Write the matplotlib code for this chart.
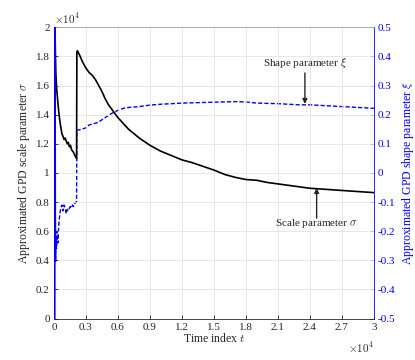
import matplotlib
matplotlib.use("Agg")
import matplotlib.pyplot as plt

plt.rcParams['font.family'] = ['Liberation Serif', 'DejaVu Serif']
plt.rcParams['mathtext.fontset'] = 'cm'

# Datos (t y sigma en unidades crudas)
t_sigma = [60, 90, 130, 180, 250, 350, 450, 550, 650, 750, 850, 950, 1050, 1150,
           1250, 1350, 1450, 1550, 1650, 1750, 1850, 1950, 2050, 2120, 2150,
           2200, 2400, 2700, 3000, 3300, 3600, 3900, 4200, 4500, 4800, 5100,
           5400, 5700, 6000, 6500, 7000, 7500, 8000, 8500, 9000, 10000, 11000,
           12000, 13000, 14000, 15000, 16000, 17000, 18000, 19000, 20000,
           21000, 22000, 23000, 24000, 25000, 26000, 27000, 28000, 29000, 30000]
sigma = [26000, 20500, 18500, 16800, 15800, 15000, 14200, 13600, 13100, 12700,
         12500, 12300, 12400, 12200, 12000, 12100, 11800, 11900, 11600, 11500,
         11400, 11200, 11100, 11000, 18300, 18400, 18100, 17600, 17200, 16900,
         16700, 16400, 16000, 15600, 15100, 14700, 14400, 14100, 13800, 13400,
         13000, 12700, 12400, 12150, 11900, 11500, 11200, 10900, 10700, 10450,
         10200, 9900, 9700, 9550, 9500, 9350, 9250, 9150, 9050, 8950, 8900,
         8850, 8800, 8750, 8700, 8650]

# tramo inicial (muy ruidoso, se ve continuo)
t_xi0 = [50, 70, 100, 140]
xi0 = [-0.5, 0.55, -0.15, -0.30]

t_xi = [140, 180, 240, 300, 380, 450, 550, 650, 750, 850, 950, 1050,
        1150, 1250, 1350, 1450, 1550, 1650, 1750, 1850, 1950, 2050, 2120, 2150,
        2200, 2600, 3000, 3300, 3600, 4000, 4400, 4800, 5200, 5600, 6000, 6500,
        7000, 8000, 9000, 10000, 11000, 12000, 13000, 14000, 15000, 16000,
        17000, 18000, 19000, 20000, 21000, 22000, 23000, 24000, 25000, 26000,
        27000, 28000, 29000, 30000]
xi = [-0.30, -0.22, -0.26, -0.20, -0.24, -0.18, -0.14,
      -0.12, -0.11, -0.13, -0.11, -0.12, -0.14, -0.125, -0.13, -0.12, -0.115,
      -0.12, -0.11, -0.115, -0.105, -0.10, -0.10, 0.148, 0.147, 0.150, 0.155,
      0.165, 0.168, 0.172, 0.180, 0.190, 0.200, 0.208, 0.215, 0.222, 0.225,
      0.228, 0.233, 0.236, 0.238, 0.240, 0.241, 0.242, 0.243, 0.244, 0.245,
      0.244, 0.240, 0.239, 0.238, 0.236, 0.234, 0.234, 0.232, 0.230, 0.228,
      0.226, 0.224, 0.222]

x_ticks = [0, 3000, 6000, 9000, 12000, 15000, 18000, 21000, 24000, 27000, 30000]
x_labels = ['0', '0.3', '0.6', '0.9', '1.2', '1.5', '1.8', '2.1', '2.4', '2.7', '3']
y_ticks = [0, 2000, 4000, 6000, 8000, 10000, 12000, 14000, 16000, 18000, 20000]
y_labels = ['0', '0.2', '0.4', '0.6', '0.8', '1', '1.2', '1.4', '1.6', '1.8', '2']
y2_ticks = [-0.5, -0.4, -0.3, -0.2, -0.1, 0, 0.1, 0.2, 0.3, 0.4, 0.5]
y2_labels = ['-0.5', '-0.4', '-0.3', '-0.2', '-0.1', '0', '0.1', '0.2', '0.3', '0.4', '0.5']

gris = '#262626'
azul = '#0000ff'

fig = plt.figure(figsize=(4.15, 3.6), dpi=100)
ax = fig.add_axes([0.130, 0.115, 0.771, 0.809])
ax2 = ax.twinx()

ax.plot(t_sigma, sigma, color='black', lw=1.2, zorder=3)
ax2.plot(t_xi, xi, color=azul, lw=1.0, dashes=(3, 1.5))

ax.set_xlim(0, 30000)
ax.set_ylim(0, 20000)
ax2.set_ylim(-0.5, 0.5)
ax.set_zorder(ax2.get_zorder() + 1)
ax.patch.set_visible(False)
# el tramo inicial azul va por encima del eje izquierdo
ax.plot(t_xi0, xi0, color=azul, lw=1.6, transform=ax2.transData, zorder=4)

ax.set_xticks(x_ticks)
ax.set_xticklabels(x_labels)
ax.set_yticks(y_ticks)
ax.set_yticklabels(y_labels)
ax2.set_yticks(y2_ticks)
ax2.set_yticklabels(y2_labels)

ax.grid(True, color='#e3e3e3', lw=0.6)
ax.set_axisbelow(True)

ax.tick_params(direction='in', length=3, width=0.6, labelsize=8, colors=gris, pad=3)
ax2.tick_params(direction='in', length=3, width=0.6, labelsize=8, colors=azul, pad=3)

for s in ['left', 'bottom']:
    ax.spines[s].set_color(gris)
    ax.spines[s].set_linewidth(0.6)
ax.spines['top'].set_color('#a0a0a0')
ax.spines['top'].set_linewidth(0.6)
ax.spines['right'].set_visible(False)
ax2.spines['right'].set_color(azul)
ax2.spines['right'].set_linewidth(0.6)
ax2.spines['left'].set_visible(False)
ax2.spines['top'].set_visible(False)
ax2.spines['bottom'].set_visible(False)

ax.set_xlabel('Time index $t$', fontsize=8.5, color=gris, labelpad=0)
ax.set_ylabel('Approximated GPD scale parameter $\\sigma$', fontsize=8.5,
              color=gris, labelpad=3)
ax2.set_ylabel('Approximated GPD shape parameter $\\xi$', fontsize=8.5,
               color=azul, labelpad=3)

# Multiplicadores de escala
ax.text(0.0, 1.005, '$\\times10^4$', transform=ax.transAxes, fontsize=8,
        color=gris, ha='left', va='bottom')
ax.text(1.0, -0.075, '$\\times10^4$', transform=ax.transAxes, fontsize=8,
        color=gris, ha='right', va='top')

# Anotaciones
ax.text(23500, 17560, 'Shape parameter $\\xi$', fontsize=8, color=gris,
        ha='center', va='center')
ax.annotate('', xy=(23530, 14740), xytext=(23530, 16870),
            arrowprops=dict(arrowstyle='-|>', color=gris, lw=1.0,
                            mutation_scale=7, shrinkA=0, shrinkB=0))
ax.text(24600, 6560, 'Scale parameter $\\sigma$', fontsize=8, color=gris,
        ha='center', va='center')
ax.annotate('', xy=(24630, 8970), xytext=(24630, 6900),
            arrowprops=dict(arrowstyle='-|>', color=gris, lw=1.0,
                            mutation_scale=7, shrinkA=0, shrinkB=0))

fig.savefig('out.png', dpi=100)
